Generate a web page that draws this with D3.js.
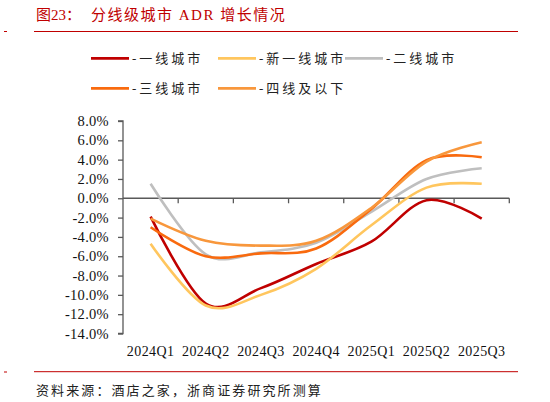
<!DOCTYPE html>
<html>
<head>
<meta charset="utf-8">
<script src="https://cdn.jsdelivr.net/npm/d3@7"></script>
<style>
  html, body { margin: 0; padding: 0; background: #fff; }
  svg { display: block; }
</style>
</head>
<body>
<svg id="chart" width="550" height="402"></svg>
<script>
// 数据
const quarters = ["2024Q1", "2024Q2", "2024Q3", "2024Q4", "2025Q1", "2025Q2", "2025Q3"];
const seriesNames = ["-一线城市", "-新一线城市", "-二线城市", "-三线城市", "-四线及以下"];
const tier1 = [-1.9, -10.9, -9.3, -6.8, -4.5, -0.2, -2.1];
const newTier1 = [-4.7, -11.1, -10.0, -7.3, -2.8, 1.1, 1.5];
const tier2 = [1.5, -5.8, -5.6, -4.6, -1.4, 2.0, 3.1];
const tier3 = [-3.0, -6.0, -5.7, -5.2, -1.1, 3.95, 4.25];
const tier4 = [-2.1, -4.4, -4.9, -4.4, -1.0, 3.8, 5.8];
const yTicks = [8, 6, 4, 2, 0, -2, -4, -6, -8, -10, -12, -14];

const colors = ["#C00000", "#FFC65E", "#BFBFBF", "#F96A0E", "#F8973C"];
const allSeries = [tier1, newTier1, tier2, tier3, tier4];

const svg = d3.select("#chart");
const serif = "'Liberation Serif', 'Noto Sans CJK SC', serif";
const cjk = "'Liberation Serif', 'Noto Sans CJK SC', sans-serif";
const red = "#C00000";

// 标题
svg.append("text").attr("x", 36).attr("y", 20)
  .attr("font-family", cjk).attr("font-size", 15).attr("fill", red)
  .text("图23：");
svg.append("text").attr("x", 91).attr("y", 20)
  .attr("font-family", cjk).attr("font-size", 15).attr("fill", red)
  .attr("letter-spacing", 1.5)
  .text("分线级城市 ADR 增长情况");

// 标题下红线
svg.append("line").attr("x1", 34).attr("x2", 518).attr("y1", 31.5).attr("y2", 31.5)
  .attr("stroke", red).attr("stroke-width", 1);
svg.append("rect").attr("x", 4).attr("y", 31).attr("width", 3).attr("height", 1).attr("fill", red);

// 比例尺
const x = d3.scaleBand().domain(quarters).range([123, 509.3]).paddingInner(0).paddingOuter(0);
const y = d3.scaleLinear().domain([-14, 8]).range([333.5, 121]);

// Y 轴
const yAxis = svg.append("g").attr("transform", "translate(123,0)")
  .call(d3.axisLeft(y).tickValues(yTicks).tickSize(5).tickPadding(9)
    .tickFormat(d => d.toFixed(1) + "%"));
yAxis.select(".domain").attr("stroke", "#595959").attr("stroke-width", 1.3)
  .attr("d", `M-5,${y(8)}H0V${y(-14)}H-5`);
yAxis.selectAll(".tick line").attr("stroke", "#595959").attr("stroke-width", 1.3);
yAxis.selectAll(".tick text").attr("font-family", serif).attr("font-size", 14.5)
  .attr("letter-spacing", 0.3).attr("fill", "#111");

// X 轴（零线）
const y0 = y(0);
svg.append("line").attr("x1", 123).attr("x2", x.range()[1]).attr("y1", y0).attr("y2", y0)
  .attr("stroke", "#595959").attr("stroke-width", 1.3);
const tickXs = quarters.slice(1).map(q => x(q)).concat([x.range()[1]]);
svg.selectAll(".xtick").data(tickXs).enter().append("line")
  .attr("class", "xtick")
  .attr("x1", d => d).attr("x2", d => d)
  .attr("y1", y0).attr("y2", y0 + 5)
  .attr("stroke", "#595959").attr("stroke-width", 1.3);

svg.selectAll(".xlabel").data(quarters).enter().append("text")
  .attr("class", "xlabel")
  .attr("x", d => x(d) + x.bandwidth() / 2)
  .attr("y", 356)
  .attr("text-anchor", "middle")
  .attr("font-family", serif).attr("font-size", 14).attr("letter-spacing", 0.4)
  .attr("fill", "#111")
  .text(d => d);

// 折线
const line = d3.line()
  .x((d, i) => x(quarters[i]) + x.bandwidth() / 2)
  .y(d => y(d))
  .curve(d3.curveCatmullRom.alpha(0));

svg.selectAll(".series").data(allSeries).enter().append("path")
  .attr("class", "series")
  .attr("d", d => line(d))
  .attr("fill", "none")
  .attr("stroke", (d, i) => colors[i])
  .attr("stroke-width", 2.6)
  .attr("stroke-linejoin", "round")
  .attr("stroke-linecap", "butt");

// 图例
const legendPos = [[91, 58.3], [218, 58.3], [345, 58.3], [91, 88.3], [218, 88.3]];
const legend = svg.selectAll(".legend").data(seriesNames).enter().append("g")
  .attr("class", "legend")
  .attr("transform", (d, i) => `translate(${legendPos[i][0]},${legendPos[i][1]})`);
legend.append("line").attr("x1", 0).attr("x2", 38).attr("y1", 0).attr("y2", 0)
  .attr("stroke", (d, i) => colors[i]).attr("stroke-width", 2.8);
legend.append("text").attr("x", 41).attr("y", 0).attr("dy", "0.36em")
  .attr("font-family", cjk).attr("font-size", 13).attr("letter-spacing", 3)
  .attr("fill", "#222")
  .text(d => d);

// 底部红线与来源
svg.append("line").attr("x1", 34).attr("x2", 518).attr("y1", 371.7).attr("y2", 371.7)
  .attr("stroke", red).attr("stroke-width", 1);
svg.append("rect").attr("x", 4).attr("y", 371.5).attr("width", 3).attr("height", 1).attr("fill", red);
svg.append("text").attr("x", 36).attr("y", 390).attr("dy", "0.36em")
  .attr("font-family", cjk).attr("font-size", 13).attr("letter-spacing", 2.1)
  .attr("fill", "#222")
  .text("资料来源：酒店之家，浙商证券研究所测算");
</script>
</body>
</html>
